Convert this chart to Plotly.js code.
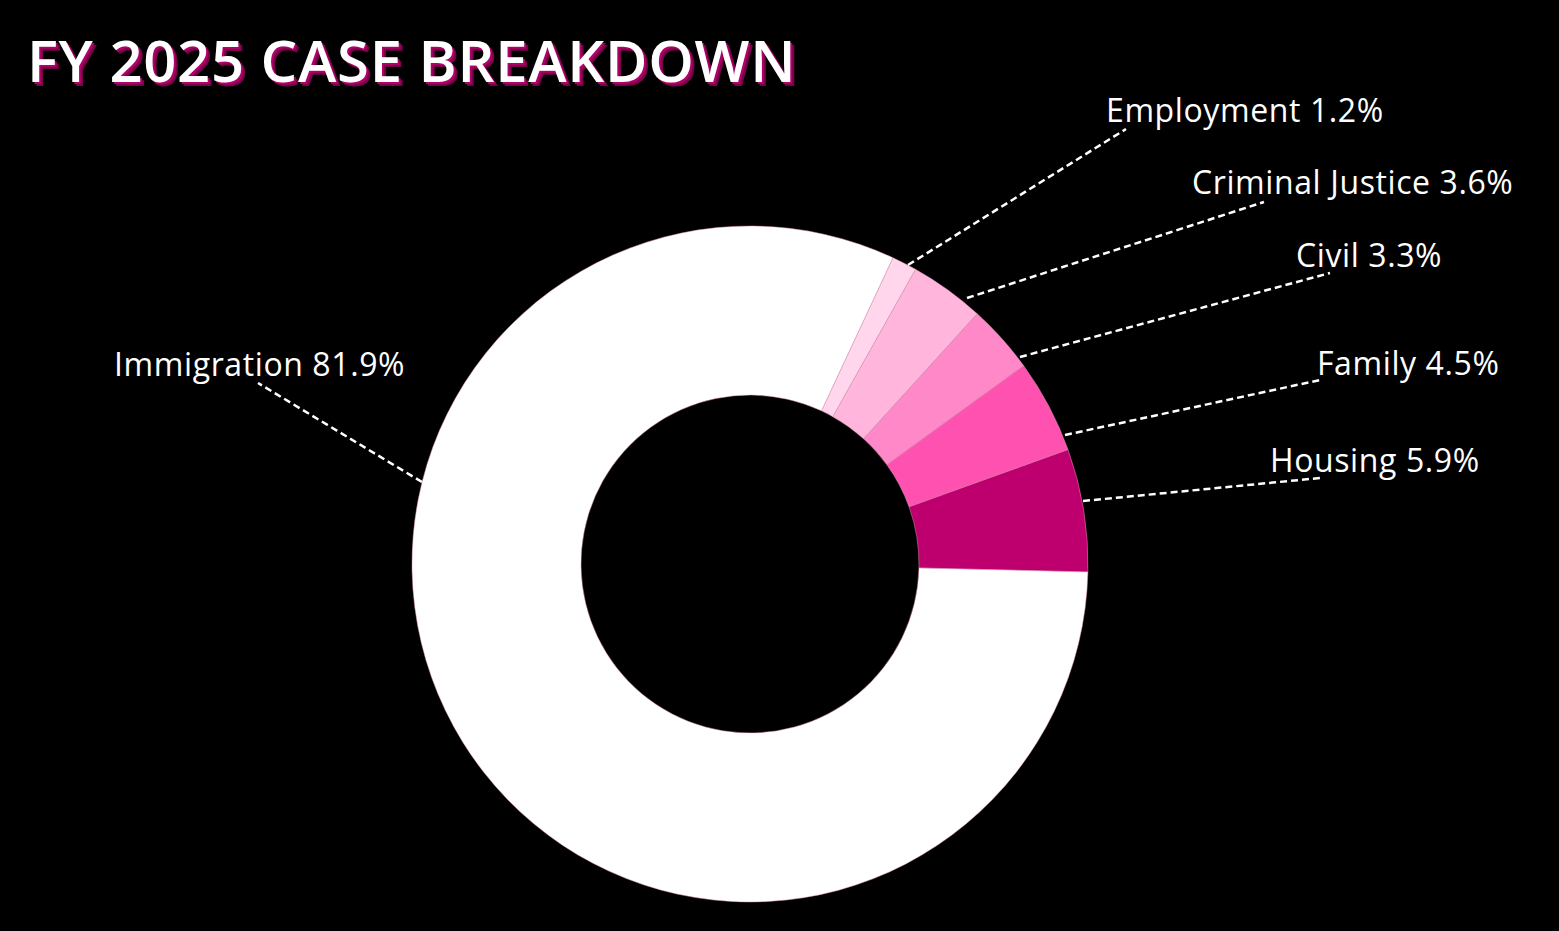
<!DOCTYPE html>
<html>
<head>
<meta charset="utf-8">
<script src="https://cdn.plot.ly/plotly-3.0.1.min.js"></script>
<style>
  html, body { margin: 0; padding: 0; background: #000; }
  #chart { width: 1559px; height: 931px; }
  .gtitle { letter-spacing: 0.7px; }
  .annotation-text { letter-spacing: 0.6px; }
</style>
</head>
<body>
<div id="chart"></div>
<script>
// ---- data ----
const categories = ["Housing", "Family", "Civil", "Criminal Justice", "Employment", "Immigration"];
const shares = [5.9, 4.5, 3.3, 3.6, 1.2, 81.9];
const sliceColors = ["#bd006d", "#ff52b0", "#ff88c8", "#ffb5dc", "#ffd6eb", "#ffffff"];

// ---- layout helpers (pixel -> paper) ----
const W = 1559, H = 931;
const px = x => x / W;
const py = y => 1 - y / H;

// label placement and leader lines (pixels): [labelX, labelY, anchor, lineStartX, lineStartY, lineEndX, lineEndY]
const labelPlacement = {
  "Employment":       [1104, 110, "left",  908, 265, 1126, 129],
  "Criminal Justice": [1190, 181, "left",  967, 298, 1264, 202],
  "Civil":            [1294, 255, "left", 1020, 357, 1330, 273],
  "Family":           [1315, 362, "left", 1065, 435, 1320, 380],
  "Housing":          [1268, 459, "left", 1083, 501, 1320, 478],
  "Immigration":      [407,  363, "right", 422, 482,  258, 383]
};

const cx = 750, cy = 564, R = 338;

const trace = {
  type: "pie",
  labels: categories,
  values: shares,
  hole: 0.5,
  sort: false,
  direction: "counterclockwise",
  rotation: 70.2,
  textinfo: "none",
  hoverinfo: "label+percent",
  marker: { colors: sliceColors, line: { color: "rgba(230,150,190,0.6)", width: 0.8 } },
  domain: { x: [px(cx - R), px(cx + R)], y: [py(cy + R), py(cy - R)] },
  showlegend: false
};

const labelFont = { family: "'Open Sans', sans-serif", size: 32, color: "#ffffff" };

const annotations = categories.map((c, i) => {
  const p = labelPlacement[c];
  return {
    xref: "paper", yref: "paper",
    x: px(p[0]), y: py(p[1]),
    xanchor: p[2], yanchor: "middle",
    text: c + " " + shares[i].toFixed(1) + "%",
    showarrow: false,
    font: labelFont
  };
});

const shapes = categories.map(c => {
  const p = labelPlacement[c];
  return {
    type: "line", xref: "paper", yref: "paper",
    x0: px(p[3]), y0: py(p[4]), x1: px(p[5]), y1: py(p[6]),
    line: { color: "#ffffff", width: 2.5, dash: "7px,4px" }
  };
});

const layout = {
  width: W, height: H,
  paper_bgcolor: "#000000",
  plot_bgcolor: "#000000",
  margin: { l: 0, r: 0, t: 0, b: 0 },
  title: {
    text: "FY 2025 CASE BREAKDOWN",
    x: px(27), xanchor: "left",
    y: py(62), yanchor: "middle",
    font: { family: "'Open Sans', sans-serif", weight: 600, size: 58, color: "#ffffff",
            shadow: "2px 2px 0px #b0006a, 4px 4px 0px #7a0048" }
  },
  annotations: annotations,
  shapes: shapes
};

Plotly.newPlot("chart", [trace], layout, { displayModeBar: false, staticPlot: true });
</script>
</body>
</html>
